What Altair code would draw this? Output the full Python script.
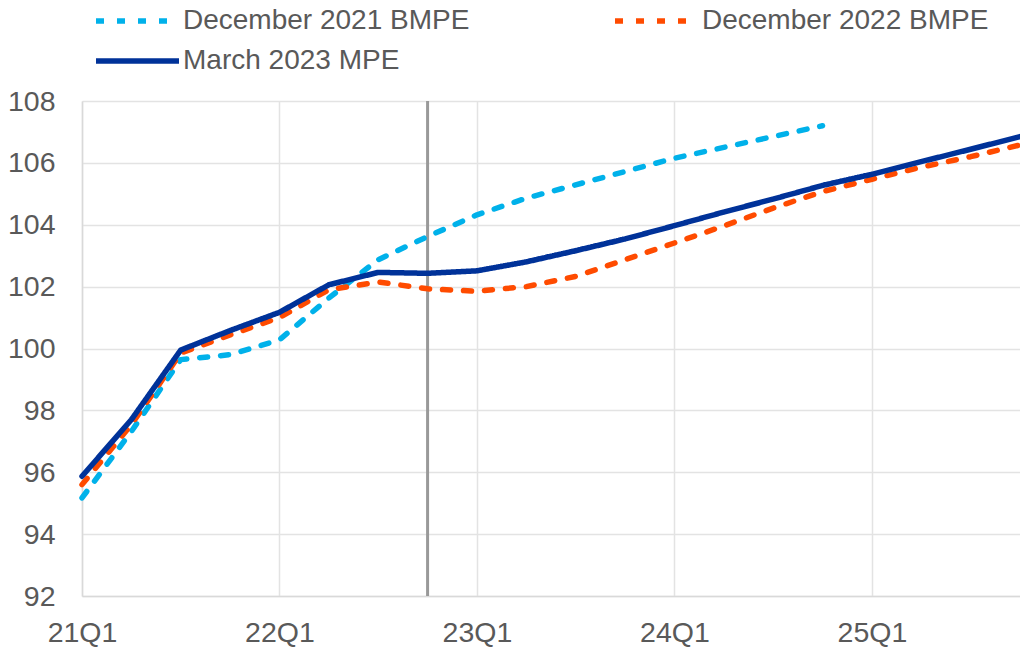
import altair as alt
import pandas as pd

quarters = ["21Q1", "21Q2", "21Q3", "21Q4", "22Q1", "22Q2", "22Q3", "22Q4",
            "23Q1", "23Q2", "23Q3", "23Q4", "24Q1", "24Q2", "24Q3", "24Q4",
            "25Q1", "25Q2", "25Q3", "25Q4"]
year_ticks = ["21Q1", "22Q1", "23Q1", "24Q1", "25Q1"]
y_ticks = [92, 94, 96, 98, 100, 102, 104, 106, 108]

series = ["December 2021 BMPE", "December 2022 BMPE", "March 2023 MPE"]
colors = ["#00B1EA", "#FF4B00", "#003299"]

# Dec 2021 projection stops at 24Q4
dec21 = [95.17, 97.32, 99.64, 99.80, 100.28, 101.63, 102.87, 103.62,
         104.32, 104.86, 105.29, 105.72, 106.15, 106.50, 106.85, 107.20]
dec22 = [95.60, 97.54, 99.85, 100.44, 101.00, 101.90, 102.15, 101.93,
         101.85, 102.00, 102.33, 102.87, 103.41, 103.96, 104.54, 105.07,
         105.47, 105.86, 106.20, 106.58]
mar23 = [95.87, 97.70, 99.95, 100.58, 101.17, 102.06, 102.46, 102.43,
         102.51, 102.80, 103.16, 103.54, 103.97, 104.41, 104.83, 105.27,
         105.63, 106.04, 106.44, 106.85]
cutoff = ["22Q4"]

rows = []
for name, vals in zip(series, [dec21, dec22, mar23]):
    for q, v in zip(quarters, vals):
        rows.append({"t": quarters.index(q), "quarter": q, "value": v, "series": name})
df = pd.DataFrame(rows)

# quarter index on a linear scale, labelled back with the quarter names
label_js = "[" + ",".join("'%s'" % q for q in quarters) + "][datum.value]"
x_scale = alt.Scale(domain=[0, len(quarters) - 1], nice=False, zero=False)
y_scale = alt.Scale(domain=[92, 108], nice=False, zero=False)
x_axis = alt.Axis(values=[quarters.index(q) for q in year_ticks], labelExpr=label_js,
                  labelAlign="center", labelBaseline="top", labelFlush=False,
                  labelOverlap=False, grid=True)

rule = alt.Chart(pd.DataFrame({"t": [quarters.index(q) for q in cutoff]})).mark_rule(
    color="#999999", strokeWidth=3
).encode(x=alt.X("t:Q", scale=x_scale, title=None, axis=x_axis))

lines = alt.Chart(df).mark_line(strokeCap="round", strokeJoin="round").encode(
    x=alt.X("t:Q", scale=x_scale, title=None, axis=x_axis),
    y=alt.Y("value:Q", scale=y_scale, title=None,
            axis=alt.Axis(values=y_ticks, grid=True)),
    color=alt.Color("series:N", scale=alt.Scale(domain=series, range=colors),
                    legend=alt.Legend(title=None)),
    strokeDash=alt.StrokeDash("series:N",
                              scale=alt.Scale(domain=series, range=[[8, 13], [8, 13], [1, 0]]),
                              legend=alt.Legend(title=None)),
    strokeWidth=alt.StrokeWidth("series:N",
                                scale=alt.Scale(domain=series, range=[5.5, 5.5, 6]),
                                legend=alt.Legend(title=None)),
)

chart = alt.layer(rule, lines).properties(
    width=938, height=495,
    autosize=alt.AutoSizeParams(type="none"),
    padding={"left": 74, "top": 93, "right": 0, "bottom": 52},
).configure_view(
    stroke=None
).configure_axis(
    labelFont="Liberation Sans", labelFontSize=28.5, labelColor="#595959",
    domainColor="#d9d9d9", domainWidth=1.5, gridColor="#e3e3e3", gridWidth=1.5,
    ticks=False,
).configure_axisX(
    labelPadding=22,
).configure_axisY(
    labelPadding=27,
).configure_legend(
    orient="none", legendX=11, legendY=-96, columns=2, padding=0,
    direction="horizontal",
    symbolType="stroke", symbolSize=6889, clipHeight=32,
    labelFont="Liberation Sans", labelFontSize=28, labelColor="#595959",
    labelOffset=1, columnPadding=142, rowPadding=8, labelLimit=400,
)

chart.save("out.html", embed_options={"renderer": "svg", "actions": False})
